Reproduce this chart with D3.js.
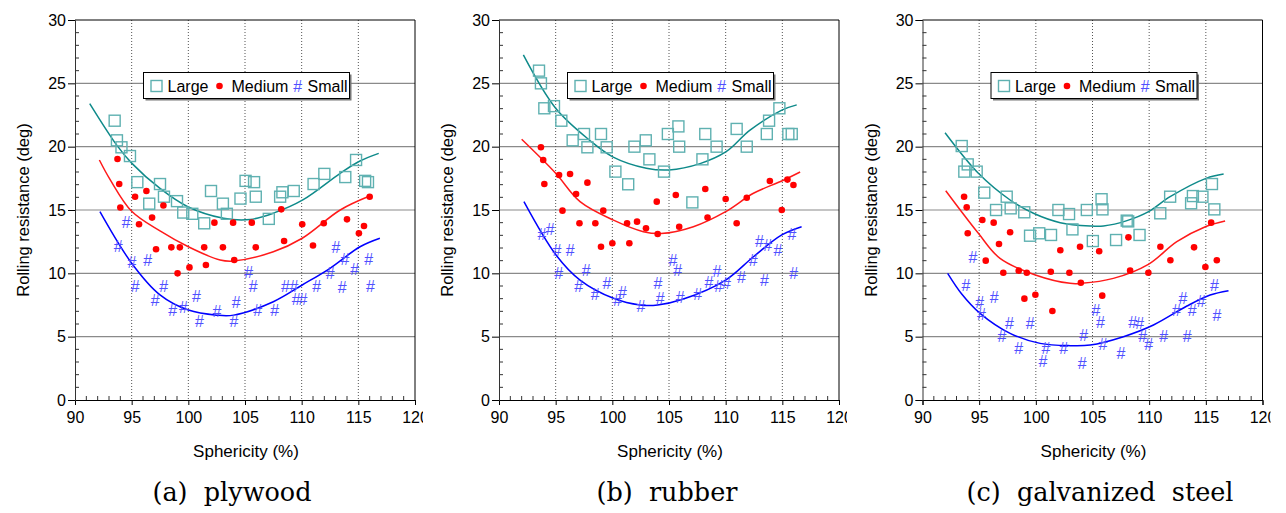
<!DOCTYPE html>
<html><head><meta charset="utf-8">
<script src="https://cdn.jsdelivr.net/npm/d3@7/dist/d3.min.js"></script>
<style>
html,body{margin:0;padding:0;background:#fff;}
</style></head>
<body><svg id="chart" width="1286" height="513" font-family="Liberation Sans, Arial, sans-serif"></svg>
<script>
// ---------- data ----------
const xTicks = [90, 95, 100, 105, 110, 115, 120];
const yTicks = [0, 5, 10, 15, 20, 25, 30];
const seriesNames = ["Large", "Medium", "Small"];
const captions = ["(a)  plywood", "(b)  rubber", "(c)  galvanized  steel"];
const xLabel = "Sphericity (%)";
const yLabel = "Rolling resistance (deg)";

const plywoodLarge = [[93.5,22.05],[93.7,20.5],[94.1,19.95],[94.85,19.26],[95.5,17.2],[96.55,15.5],[97.5,17.05],[97.85,16.05],[99.0,15.7],[99.55,14.8],[100.35,14.7],[101.4,13.95],[102.0,16.5],[103.05,15.5],[103.4,14.7],[104.6,15.9],[105.05,17.3],[105.8,17.2],[105.95,16.05],[107.1,14.3],[108.1,16.05],[108.3,16.4],[109.3,16.5],[111.05,17.05],[112.0,17.85],[113.85,17.6],[114.8,18.95],[115.6,17.3],[115.85,17.2]];
const plywoodMedium = [[93.75,19.03],[93.9,17.05],[94.0,15.2],[95.3,16.05],[95.65,13.87],[96.3,16.5],[96.8,14.4],[97.8,15.35],[97.15,11.9],[98.5,12.05],[99.25,12.05],[99.05,10.0],[100.1,10.47],[101.4,12.05],[101.55,10.66],[102.3,14.0],[103.05,12.05],[103.95,14.0],[104.05,11.05],[105.6,14.0],[105.95,12.05],[108.2,15.05],[108.45,12.55],[110.05,13.87],[111.0,12.2],[111.95,13.95],[114.0,14.26],[115.05,13.16],[115.5,13.74],[116.0,16.05]];
const plywoodSmall = [[93.8,12.1],[94.5,14.03],[95.0,10.84],[96.4,11.05],[95.3,9.0],[97.8,9.0],[97.05,7.84],[98.6,7.05],[99.55,7.31],[100.7,8.2],[100.95,6.18],[102.5,6.97],[104.2,7.68],[104.0,6.18],[105.3,10.05],[105.7,9.0],[106.1,7.1],[107.6,7.05],[108.55,9.0],[109.3,9.0],[109.5,7.97],[110.1,7.97],[111.3,9.0],[112.5,10.0],[113.0,12.05],[113.55,8.9],[113.8,11.1],[114.65,10.34],[115.9,11.1],[116.05,9.0]];
const plywoodLargeFit = [[91.3,23.4],[93.7,20.1],[95,18.7],[97.5,16.7],[99.95,15.26],[103.1,14.35],[105.45,14.25],[107.5,14.75],[110.1,15.8],[113.4,17.9],[115.1,18.85],[116.8,19.47]];
const plywoodMediumFit = [[92.15,18.95],[93.1,17.4],[95,14.9],[97.5,13.35],[100,12.1],[102.8,11.05],[104,10.97],[107.5,11.7],[110.05,12.77],[113.4,15.0],[116.0,16.1]];
const plywoodSmallFit = [[92.2,14.87],[95,10.8],[97.5,8.3],[100,7.1],[102.5,6.7],[104,6.7],[107.5,7.76],[110.05,9.08],[112.5,10.4],[115.15,12.1],[116.9,12.77]];

const rubberLarge = [[93.53,26.0],[93.7,25.0],[94.0,23.03],[94.85,23.2],[95.5,22.05],[96.5,20.5],[97.5,21.0],[97.8,19.95],[99.0,21.0],[99.5,19.95],[100.27,18.03],[101.4,17.03],[101.95,20.0],[102.95,20.5],[103.27,19.0],[104.56,18.03],[104.9,21.0],[105.83,21.6],[105.9,20.0],[107.06,15.6],[107.95,19.0],[108.2,21.0],[109.2,20.0],[110.97,21.4],[111.86,20.0],[113.63,21.0],[113.83,22.05],[114.74,23.03],[115.53,21.0],[115.83,21.0]];
const rubberMedium = [[93.7,19.95],[93.9,18.95],[94.0,17.05],[95.3,17.76],[95.6,14.95],[96.27,17.84],[96.8,16.26],[97.1,13.95],[97.8,17.16],[98.5,13.95],[99.2,14.95],[99.0,12.1],[100.0,12.37],[101.3,13.95],[101.5,12.37],[102.18,14.08],[102.97,13.55],[103.92,15.66],[104.0,13.1],[105.6,16.18],[105.9,13.68],[108.2,16.66],[108.4,14.4],[110.0,15.87],[110.97,13.95],[111.86,15.97],[113.9,17.29],[114.95,15.0],[115.45,17.4],[115.98,16.97]];
const rubberSmall = [[93.77,13.03],[94.5,13.47],[95.1,11.79],[96.27,11.79],[95.24,9.95],[97.68,10.21],[97.0,9.0],[98.47,8.29],[99.5,9.16],[100.44,7.84],[100.88,8.47],[102.5,7.42],[104.0,9.16],[104.2,8.03],[105.33,11.0],[105.74,10.21],[105.97,8.1],[107.5,8.29],[108.5,9.26],[109.2,10.13],[109.36,9.0],[110.04,9.16],[111.36,9.68],[112.4,11.0],[112.97,12.5],[113.4,9.42],[113.68,12.16],[114.6,11.79],[115.83,13.03],[115.98,9.95]];
const rubberLargeFit = [[92.15,27.24],[95,23.03],[98,20.5],[100.03,19.2],[103,18.3],[105,18.16],[107.74,18.66],[110.04,19.6],[112.15,21.3],[115,22.9],[116.27,23.3]];
const rubberMediumFit = [[92,20.58],[95,17.9],[97.15,15.66],[100.1,14.2],[102.74,13.29],[104.3,13.14],[107.15,13.68],[110,14.87],[112.45,16.32],[114.95,17.29],[116.57,18.0]];
const rubberSmallFit = [[92.2,15.66],[95.03,11.45],[97.15,9.47],[100.1,8.03],[102.45,7.5],[104.0,7.5],[106.2,7.95],[110,9.47],[112.45,11.31],[114.95,13.03],[116.7,13.68]];

const steelLarge = [[93.46,20.05],[93.99,18.6],[93.69,18.03],[94.78,18.03],[95.45,16.37],[96.49,15.0],[97.43,16.05],[97.78,15.13],[98.98,14.82],[99.49,12.97],[100.3,13.16],[101.34,13.03],[101.99,15.0],[102.93,14.68],[103.23,13.47],[104.5,15.0],[105.03,12.55],[105.8,15.85],[105.88,15.05],[107.08,12.63],[108.02,14.16],[108.15,14.1],[109.15,13.03],[110.98,14.74],[111.85,16.05],[113.7,15.53],[113.86,16.1],[114.7,16.05],[115.54,17.05],[115.75,15.05]];
const steelMedium = [[93.67,16.05],[93.9,15.21],[93.99,13.16],[95.28,14.21],[95.58,11.0],[96.28,14.0],[96.75,12.32],[97.13,10.05],[97.73,13.24],[98.49,10.21],[99.2,10.05],[98.99,8.0],[99.96,8.31],[101.32,10.13],[101.46,7.03],[102.16,11.82],[102.96,10.05],[103.9,12.1],[103.97,9.26],[105.59,11.74],[105.86,8.24],[108.17,12.84],[108.32,10.21],[109.93,10.05],[110.99,12.1],[111.87,11.03],[113.96,12.05],[114.96,10.5],[115.47,14.0],[115.97,11.03]];
const steelSmall = [[94.43,11.26],[93.81,9.03],[95.02,7.68],[95.17,6.76],[96.31,8.1],[96.99,5.05],[97.66,6.05],[98.46,4.03],[99.49,6.05],[100.61,3.03],[100.88,4.08],[102.43,4.03],[104.06,2.9],[104.2,5.13],[105.29,7.03],[105.67,6.13],[105.9,4.42],[107.49,3.68],[108.52,6.13],[109.15,6.05],[109.41,5.05],[109.94,4.42],[111.26,5.05],[112.39,7.03],[112.95,8.03],[113.33,5.05],[113.77,7.03],[114.56,7.76],[115.73,9.03],[115.97,6.71]];
const steelLargeFit = [[91.99,21.1],[94.93,17.9],[97.73,15.79],[99.79,14.74],[102.15,14.0],[104.8,13.74],[105.97,13.74],[108.04,14.16],[109.95,14.87],[111.85,16.05],[115.02,17.5],[116.57,17.84]];
const steelMediumFit = [[92.05,16.52],[94.93,13.16],[96.84,11.18],[99.96,9.87],[103.02,9.21],[104.05,9.21],[106.84,9.6],[109.93,10.71],[112.44,12.5],[114.96,13.68],[116.7,14.13]];
const steelSmallFit = [[92.22,10.0],[93.46,8.37],[95.08,6.84],[97.73,5.26],[100.38,4.47],[103.03,4.29],[104.8,4.34],[107.73,5.0],[110.38,5.92],[113.33,7.42],[115.38,8.29],[117.0,8.63]];

// ---------- layout / style ----------
const panels = [
  {x0: 75,    cap: 232,  points: [plywoodLarge, plywoodMedium, plywoodSmall], fits: [plywoodLargeFit, plywoodMediumFit, plywoodSmallFit]},
  {x0: 499,   cap: 667,  points: [rubberLarge, rubberMedium, rubberSmall],    fits: [rubberLargeFit, rubberMediumFit, rubberSmallFit]},
  {x0: 922.5, cap: 1100, points: [steelLarge, steelMedium, steelSmall],       fits: [steelLargeFit, steelMediumFit, steelSmallFit]}
];
const PW = 340, TOP = 20, BOT = 400;
const markerColor = ["#5fb1b1", "#ff0000", "#5050ff"];
const curveColor = ["#0e8a8a", "#ff1a1a", "#0000ff"];
const FONT = "Liberation Sans, Arial, sans-serif";

const svg = d3.select("#chart");
const defs = svg.append("defs");

function drawMarker(g, k, cx, cy) {
  if (k === 0) {
    g.append("rect").attr("x", cx - 5.5).attr("y", cy - 5.5).attr("width", 11).attr("height", 11)
      .attr("fill", "none").attr("stroke", markerColor[0]).attr("stroke-width", 1.4);
  } else if (k === 1) {
    g.append("circle").attr("cx", cx).attr("cy", cy).attr("r", 3.3).attr("fill", markerColor[1]);
  } else {
    g.append("text").attr("x", cx).attr("y", cy + 5.5).attr("text-anchor", "middle")
      .attr("font-family", FONT).attr("font-size", 16).attr("font-style", "italic")
      .attr("fill", markerColor[2]).text("#");
  }
}

panels.forEach((p, i) => {
  const x = d3.scaleLinear().domain([90, 120]).range([p.x0, p.x0 + PW]);
  const y = d3.scaleLinear().domain([0, 30]).range([BOT, TOP]);
  const g = svg.append("g");

  defs.append("clipPath").attr("id", "clip" + i).append("rect")
    .attr("x", p.x0 - 80).attr("y", 0).attr("width", PW + 88).attr("height", 513);

  // horizontal grid
  g.selectAll(".hg").data(yTicks.filter(t => t > 0 && t < 30)).enter().append("line")
    .attr("x1", x(90)).attr("x2", x(120)).attr("y1", d => y(d)).attr("y2", d => y(d))
    .attr("stroke", "#8a8a8a").attr("stroke-width", 1.2);
  // vertical dotted grid
  g.selectAll(".vg").data(xTicks.filter(t => t > 90 && t < 120)).enter().append("line")
    .attr("x1", d => x(d)).attr("x2", d => x(d)).attr("y1", y(30)).attr("y2", y(0))
    .attr("stroke", "#555").attr("stroke-width", 1).attr("stroke-dasharray", "1,2");
  // frame top/right
  g.append("line").attr("x1", x(90)).attr("x2", x(120)).attr("y1", y(30)).attr("y2", y(30)).attr("stroke", "#000");
  g.append("line").attr("x1", x(120)).attr("x2", x(120)).attr("y1", y(30)).attr("y2", y(0)).attr("stroke", "#000");

  // fit curves
  const line = d3.line().x(d => x(d[0])).y(d => y(d[1])).curve(d3.curveCatmullRom.alpha(0.5));
  p.fits.forEach((f, k) => {
    g.append("path").attr("d", line(f)).attr("fill", "none").attr("stroke", curveColor[k]).attr("stroke-width", 1.5);
  });

  // points
  p.points.forEach((pts, k) => {
    const pg = g.append("g");
    pts.forEach(d => drawMarker(pg, k, x(d[0]), y(d[1])));
  });

  // axes
  const ax = g.append("g").attr("transform", `translate(0,${BOT})`).attr("clip-path", `url(#clip${i})`)
    .call(d3.axisBottom(x).tickValues(xTicks).tickSize(5).tickPadding(7).tickFormat(d3.format("d")));
  ax.select(".domain").attr("stroke", "#000");
  ax.selectAll("text").attr("font-size", 16).attr("fill", "#000").attr("font-family", FONT);
  const ay = g.append("g").attr("transform", `translate(${p.x0},0)`)
    .call(d3.axisLeft(y).tickValues(yTicks).tickSize(7).tickPadding(2).tickFormat(d3.format("d")));
  ay.select(".domain").attr("stroke", "#333");
  ay.selectAll("text").attr("font-size", 16).attr("fill", "#000").attr("font-family", FONT);

  // minor ticks (inward)
  const minorX = d3.range(91, 120, 1).filter(v => v % 5 !== 0);
  const minorY = d3.range(1, 30, 1).filter(v => v % 5 !== 0);
  g.selectAll(".mx").data(minorX).enter().append("line")
    .attr("x1", d => x(d)).attr("x2", d => x(d)).attr("y1", BOT).attr("y2", BOT - 4).attr("stroke", "#333");
  g.selectAll(".my").data(minorY).enter().append("line")
    .attr("x1", p.x0).attr("x2", p.x0 + 4).attr("y1", d => y(d)).attr("y2", d => y(d)).attr("stroke", "#333");

  // axis titles
  g.append("text").attr("x", p.x0 + PW / 2 + 1).attr("y", 457).attr("text-anchor", "middle")
    .attr("font-family", FONT).attr("font-size", 17).attr("fill", "#000").text(xLabel);
  g.append("text").attr("transform", `translate(${p.x0 - 46},${(TOP + BOT) / 2}) rotate(-90)`)
    .attr("text-anchor", "middle").attr("font-family", FONT).attr("font-size", 16.5).attr("fill", "#000").text(yLabel);

  // legend
  const lx = p.x0 + 68.5, ly = 72.5, lw = 206, lh = 26;
  const lg = g.append("g");
  lg.append("rect").attr("x", lx + 2).attr("y", ly + 2).attr("width", lw).attr("height", lh).attr("fill", "#777");
  lg.append("rect").attr("x", lx).attr("y", ly).attr("width", lw).attr("height", lh)
    .attr("fill", "#fff").attr("stroke", "#000").attr("stroke-width", 1);
  const itemX = [13, 76, 154], textX = [24, 88, 164];
  seriesNames.forEach((s, k) => {
    drawMarker(lg, k, lx + itemX[k], ly + 13.5);
    lg.append("text").attr("x", lx + textX[k]).attr("y", ly + 19).attr("font-family", FONT)
      .attr("font-size", 16).attr("fill", "#000").text(s);
  });

  // caption
  svg.append("text").attr("x", p.cap).attr("y", 501).attr("text-anchor", "middle")
    .attr("font-family", "DejaVu Serif, Liberation Serif, serif").attr("font-size", 25.5).attr("fill", "#000")
    .attr("xml:space", "preserve").style("white-space", "pre").text(captions[i]);
});
</script>
</body></html>
